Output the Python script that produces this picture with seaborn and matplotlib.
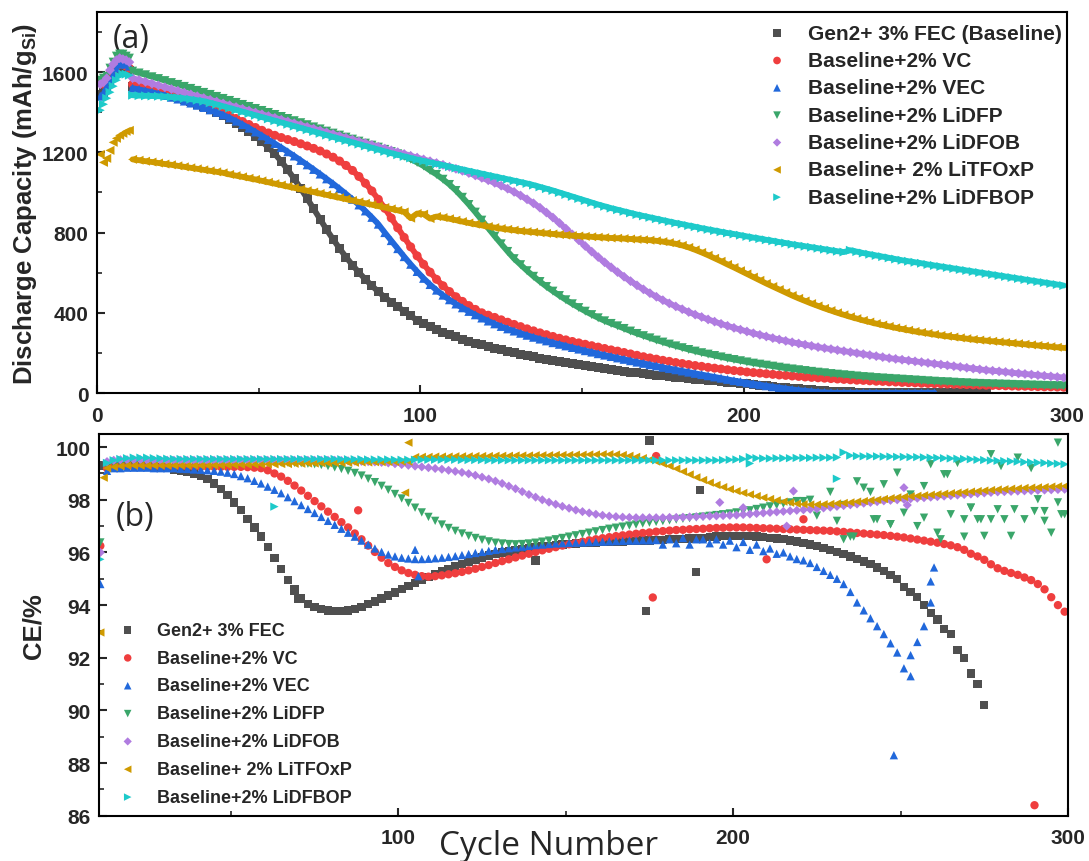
import numpy as np
import seaborn as sns
import matplotlib.pyplot as plt
from matplotlib.ticker import MultipleLocator

# ---- series names, colours, markers ----
top_labels = ['Gen2+ 3% FEC (Baseline)', 'Baseline+2% VC', 'Baseline+2% VEC',
              'Baseline+2% LiDFP', 'Baseline+2% LiDFOB', 'Baseline+ 2% LiTFOxP',
              'Baseline+2% LiDFBOP']
bottom_labels = ['Gen2+ 3% FEC', 'Baseline+2% VC', 'Baseline+2% VEC',
                 'Baseline+2% LiDFP', 'Baseline+2% LiDFOB', 'Baseline+ 2% LiTFOxP',
                 'Baseline+2% LiDFBOP']
colors = ['#4f4f4f', '#ef3e3e', '#2168db', '#3aa66a', '#b07ce0', '#cf9a00', '#1dcaca']
markers = ['s', 'o', '^', 'v', 'D', '<', '>']

# ---- (a) discharge capacity, formation cycles 1..10 ----
form_cycles = list(range(1, 11))
form_fec = [1490, 1500, 1530, 1560, 1590, 1610, 1620, 1625, 1620, 1610]
form_vc = [1550, 1540, 1560, 1590, 1610, 1630, 1640, 1640, 1630, 1620]
form_vec = [1480, 1500, 1530, 1560, 1590, 1620, 1640, 1650, 1640, 1630]
form_lidfp = [1560, 1570, 1580, 1620, 1650, 1680, 1690, 1690, 1680, 1670]
form_lidfob = [1540, 1550, 1570, 1610, 1640, 1660, 1670, 1665, 1660, 1650]
form_litfoxp = [1190, 1150, 1170, 1210, 1250, 1270, 1285, 1295, 1305, 1310]
form_lidfbop = [1410, 1440, 1470, 1500, 1530, 1560, 1580, 1590, 1590, 1585]

# ---- (a) discharge capacity, every 2nd cycle from 11 ----
cycles = list(range(11, 301, 2))
cap_fec = [1530, 1525, 1518, 1510, 1502, 1493, 1484, 1474, 1463, 1452, 1440, 1427, 1413, 1398, 1382,
           1365, 1346, 1326, 1304, 1280, 1254, 1225, 1192, 1155, 1113, 1068, 1020, 970, 918, 866,
           815, 767, 721, 678, 638, 601, 567, 535, 505, 478, 453, 430, 408, 385, 362,
           346, 331, 317, 304, 292, 280, 269, 259, 249, 240, 231, 223, 215, 207, 200,
           193, 186, 180, 174, 168, 162, 156, 151, 145, 140, 135, 130, 125, 120, 116,
           112, 108, 104, 100, 96, 92, 89, 85, 82, 78, 75, 72, 69, 66, 63,
           60, 57, 54, 51, 48, 45, 42, 39, 36, 33, 30, 27, 24, 21, 18,
           16, 14, 12, 10, 8, 7, 6, 5, 4, 3, 3, 2, 2, 2, 1,
           1, 1, 1, 1, 1, 1, 1, 1, 1, 1, 1, 1, 1]
cap_vc = [1540, 1533, 1526, 1518, 1510, 1502, 1493, 1484, 1474, 1464, 1453, 1441, 1428, 1414, 1399,
          1384, 1369, 1354, 1339, 1324, 1310, 1297, 1285, 1274, 1264, 1254, 1243, 1232, 1220, 1207,
          1192, 1176, 1157, 1135, 1110, 1080, 1046, 1008, 966, 921, 873, 824, 776, 729, 684,
          642, 603, 567, 535, 506, 480, 457, 436, 417, 400, 388, 377, 365, 353, 342,
          331, 320, 310, 300, 291, 282, 273, 265, 257, 250, 243, 236, 229, 222, 215,
          209, 202, 195, 188, 181, 175, 169, 163, 158, 152, 147, 142, 137, 133, 128,
          124, 120, 116, 112, 109, 105, 102, 99, 96, 93, 90, 88, 85, 83, 80,
          78, 76, 74, 72, 70, 68, 66, 64, 63, 61, 59, 58, 56, 55, 53,
          52, 51, 49, 48, 47, 46, 45, 44, 43, 42, 41, 40, 39, 38, 37,
          36, 35, 34, 34, 33, 32, 31, 31, 30, 29]
cap_vec = [1520, 1514, 1507, 1500, 1492, 1484, 1475, 1466, 1456, 1446, 1435, 1424, 1412, 1400, 1387,
           1372, 1356, 1339, 1321, 1302, 1283, 1264, 1244, 1224, 1203, 1182, 1160, 1138, 1115, 1092,
           1068, 1044, 1019, 993, 966, 938, 908, 876, 842, 800, 760, 720, 680, 642, 606,
           572, 541, 513, 488, 465, 444, 425, 407, 390, 374, 359, 345, 332, 320, 309,
           298, 288, 278, 269, 260, 251, 243, 235, 227, 219, 211, 204, 196, 189, 182,
           175, 168, 161, 154, 148, 141, 135, 128, 122, 116, 110, 104, 98, 92, 86,
           80, 74, 68, 62, 57, 51, 46, 41, 36, 31, 27, 22, 18, 14, 11,
           8, 5, 3, 2, 1, 1, 1, 1, 1, 1, 1, 1, 1, 1, 1,
           1, 1, 1, 1, 1]
cap_lidfp = [1605, 1596, 1587, 1577, 1568, 1558, 1548, 1539, 1529, 1519, 1509, 1499, 1489, 1479, 1469,
             1459, 1449, 1439, 1429, 1419, 1409, 1399, 1389, 1379, 1369, 1358, 1348, 1338, 1327, 1317,
             1306, 1296, 1286, 1276, 1266, 1256, 1246, 1236, 1226, 1215, 1204, 1193, 1180, 1166, 1150,
             1132, 1110, 1090, 1066, 1040, 1010, 976, 940, 902, 862, 822, 782, 744, 706, 670,
             640, 610, 582, 556, 531, 508, 486, 465, 445, 426, 408, 391, 375, 360, 347,
             335, 322, 309, 297, 286, 275, 264, 254, 244, 235, 226, 217, 209, 201, 194,
             187, 180, 173, 167, 161, 155, 149, 144, 139, 134, 129, 124, 120, 116, 112,
             108, 104, 101, 97, 94, 91, 88, 85, 82, 80, 77, 75, 73, 71, 69,
             67, 65, 63, 61, 59, 57, 56, 54, 52, 51, 49, 48, 47, 46, 45,
             44, 43, 42, 41, 40, 39, 38, 37, 37, 36]
cap_lidfob = [1570, 1561, 1552, 1543, 1534, 1525, 1516, 1507, 1498, 1489, 1480, 1471, 1462, 1453, 1444,
              1435, 1426, 1417, 1408, 1399, 1390, 1381, 1372, 1363, 1354, 1345, 1336, 1327, 1318, 1309,
              1300, 1291, 1282, 1273, 1264, 1255, 1246, 1237, 1228, 1219, 1210, 1201, 1192, 1183, 1174,
              1165, 1156, 1147, 1138, 1128, 1118, 1108, 1097, 1085, 1073, 1061, 1048, 1034, 1019, 1003,
              985, 966, 946, 924, 900, 875, 848, 820, 791, 762, 733, 705, 678, 652, 627,
              603, 580, 558, 537, 517, 498, 480, 463, 447, 432, 418, 404, 391, 379, 367,
              356, 345, 335, 325, 316, 307, 298, 290, 282, 274, 267, 260, 253, 247, 241,
              235, 229, 224, 219, 214, 209, 204, 199, 194, 189, 184, 179, 174, 170, 166,
              162, 158, 154, 150, 146, 142, 138, 134, 130, 126, 122, 118, 114, 111, 108,
              105, 101, 98, 95, 92, 89, 86, 83, 80, 77]
cap_litfoxp = [1165, 1161, 1156, 1152, 1147, 1142, 1138, 1133, 1128, 1123, 1118, 1113, 1108, 1103, 1098,
               1090, 1084, 1078, 1071, 1065, 1058, 1051, 1044, 1037, 1030, 1023, 1016, 1009, 1002, 995,
               988, 981, 974, 967, 960, 953, 946, 939, 932, 925, 918, 911, 903, 872, 895,
               892, 870, 880, 875, 869, 862, 855, 848, 842, 836, 830, 825, 820, 816, 812,
               808, 805, 802, 799, 796, 793, 790, 787, 785, 783, 781, 779, 777, 775, 773,
               772, 770, 768, 766, 764, 762, 759, 755, 750, 744, 736, 726, 714, 701, 687,
               672, 657, 641, 626, 610, 594, 578, 562, 546, 531, 516, 501, 486, 472, 459,
               446, 434, 422, 411, 400, 390, 380, 371, 362, 354, 346, 339, 332, 325, 319,
               313, 307, 302, 297, 292, 287, 283, 279, 275, 271, 267, 264, 261, 258, 255,
               252, 249, 246, 243, 240, 237, 234, 231, 228, 225]
cap_lidfbop = [1485, 1483, 1482, 1481, 1480, 1478, 1476, 1473, 1469, 1465, 1460, 1455, 1447, 1439, 1430,
               1421, 1412, 1403, 1394, 1385, 1376, 1367, 1358, 1349, 1340, 1331, 1322, 1313, 1304, 1295,
               1286, 1277, 1268, 1259, 1250, 1241, 1232, 1223, 1214, 1205, 1196, 1188, 1180, 1172, 1164,
               1157, 1150, 1143, 1136, 1129, 1122, 1115, 1108, 1101, 1094, 1087, 1080, 1073, 1066, 1059,
               1052, 1045, 1037, 1028, 1019, 1010, 1000, 990, 980, 970, 960, 950, 940, 931, 922,
               914, 906, 898, 890, 883, 876, 869, 862, 855, 848, 842, 835, 829, 822, 816,
               810, 804, 798, 793, 787, 781, 775, 770, 764, 759, 753, 748, 742, 737, 732,
               727, 722, 717, 712, 707, 703, 712, 705, 698, 692, 686, 680, 674, 668, 662,
               657, 652, 647, 641, 636, 631, 626, 621, 616, 611, 606, 601, 596, 591, 586,
               581, 576, 571, 566, 561, 556, 551, 546, 541, 536]

# ---- (b) coulombic efficiency, every 2nd cycle from 11 ----
ce_fec = [99.3, 99.35, 99.35, 99.35, 99.35, 99.34, 99.32, 99.3, 99.27, 99.24, 99.2, 99.15, 99.1, 99.05, 99.0,
          98.9, 98.78, 98.62, 98.42, 98.18, 97.9, 97.6, 97.28, 96.95, 96.6, 96.2, 95.8, 95.38, 94.95, 94.55,
          94.25, 94.05, 93.92, 93.84, 93.8, 93.78, 93.78, 93.8, 93.86, 93.94, 94.04, 94.14, 94.25, 94.36, 94.48,
          94.6, 94.72, 94.84, 94.96, 95.08, 95.18, 95.28, 95.38, 95.48, 95.57, 95.65, 95.73, 95.81, 95.88, 95.95,
          96.0, 96.04, 96.08, 96.12, 96.16, 96.19, 96.22, 96.25, 96.28, 96.3, 96.32, 96.34, 96.35, 96.36, 96.38,
          96.39, 96.4, 96.41, 96.42, 96.43, 96.44, 96.45, 96.46, 96.47, 96.48, 96.5, 96.51, 96.52, 96.53, 96.55,
          96.56, 96.58, 96.6, 96.62, 96.63, 96.63, 96.63, 96.62, 96.6, 96.58, 96.56, 96.53, 96.5, 96.46, 96.41,
          96.36, 96.3, 96.24, 96.17, 96.1, 96.02, 95.94, 95.85, 95.76, 95.66, 95.55, 95.43, 95.3, 95.15, 94.98,
          94.7, 94.5, 94.3, 94.0, 93.7, 93.45, 93.1, 92.9, 92.3, 92.0, 91.4, 91.0, 90.2]
ce_vc = [96.25, 99.2, 99.25, 99.25, 99.25, 99.25, 99.25, 99.25, 99.25, 99.25, 99.25, 99.25, 99.25, 99.25, 99.25,
         99.25, 99.25, 99.25, 99.25, 99.25, 99.25, 99.25, 99.24, 99.22, 99.2, 99.12, 99.0, 98.88, 98.72, 98.54,
         98.35, 98.15, 97.95, 97.75, 97.55, 97.35, 97.15, 96.95, 96.72, 96.5, 96.26, 96.02, 95.8, 95.6, 95.45,
         95.32, 95.22, 95.15, 95.1, 95.08, 95.1, 95.13, 95.17, 95.21, 95.26, 95.32, 95.38, 95.45, 95.52, 95.6,
         95.67, 95.74, 95.81, 95.88, 95.95, 96.02, 96.08, 96.14, 96.2, 96.26, 96.31, 96.36, 96.41, 96.46, 96.5,
         96.54, 96.58, 96.62, 96.65, 96.68, 96.71, 96.74, 96.76, 96.79, 96.81, 96.83, 96.85, 96.86, 96.88, 96.89,
         96.9, 96.92, 96.93, 96.94, 96.95, 96.95, 96.95, 96.94, 96.93, 96.92, 96.91, 96.9, 96.89, 96.88, 96.87,
         96.86, 96.85, 96.84, 96.83, 96.82, 96.8, 96.78, 96.76, 96.74, 96.72, 96.7, 96.68, 96.66, 96.63, 96.6,
         96.57, 96.53, 96.49, 96.45, 96.41, 96.37, 96.32, 96.27, 96.2, 96.1, 95.95, 95.85, 95.72, 95.55, 95.4,
         95.3, 95.22, 95.15, 95.05, 94.95, 94.8, 94.6, 94.3, 94.0, 93.75]
ce_vec = [94.8, 99.1, 99.2, 99.2, 99.22, 99.22, 99.22, 99.22, 99.2, 99.2, 99.2, 99.2, 99.18, 99.17, 99.15,
          99.14, 99.12, 99.1, 99.07, 99.03, 98.98, 98.9, 98.82, 98.72, 98.62, 98.5, 98.38, 98.25, 98.1, 97.95,
          97.8, 97.65, 97.5, 97.35, 97.2, 97.05, 96.9, 96.75, 96.6, 96.45, 96.3, 96.15, 96.02, 95.92, 95.85,
          95.8, 95.77, 95.75, 95.75, 95.76, 95.78, 95.8, 95.83, 95.86, 95.9, 95.94, 95.98, 96.02, 96.06, 96.1,
          96.13, 96.16, 96.19, 96.22, 96.25, 96.28, 96.3, 96.32, 96.34, 96.35, 96.36, 96.37, 96.38, 96.39, 96.4,
          96.41, 96.42, 96.43, 96.44, 96.45, 96.45, 96.46, 96.46, 96.47, 96.3, 96.5, 96.35, 96.55, 96.3, 96.5,
          96.5, 96.35, 96.5, 96.3, 96.45, 96.2, 96.4, 96.1, 96.3, 96.05, 96.15, 95.95, 96.0, 95.85, 95.75,
          95.7, 95.6, 95.45, 95.3, 95.15, 95.0, 94.8, 94.5, 94.1, 93.8, 93.5, 93.2, 92.9, 92.55, 92.2,
          91.6, 92.1, 92.6, 93.2, 94.1]
ce_lidfp = [96.38, 99.3, 99.38, 99.4, 99.42, 99.42, 99.42, 99.42, 99.42, 99.42, 99.42, 99.42, 99.42, 99.42, 99.42,
            99.42, 99.42, 99.42, 99.42, 99.42, 99.42, 99.42, 99.42, 99.42, 99.42, 99.42, 99.42, 99.41, 99.41, 99.4,
            99.39, 99.37, 99.35, 99.32, 99.28, 99.23, 99.17, 99.1, 99.02, 98.92, 98.8, 98.67, 98.53, 98.38, 98.22,
            98.05, 97.88, 97.7, 97.52, 97.35, 97.2, 97.06, 96.93, 96.82, 96.72, 96.63, 96.55, 96.48, 96.42, 96.37,
            96.34, 96.32, 96.31, 96.32, 96.34, 96.37, 96.41, 96.45, 96.5, 96.55, 96.6, 96.65, 96.7, 96.75, 96.8,
            96.85, 96.9, 96.94, 96.98, 97.02, 97.06, 97.1, 97.13, 97.16, 97.19, 97.22, 97.25, 97.28, 97.3, 97.33,
            97.36, 97.39, 97.42, 97.45, 97.48, 97.52, 97.56, 97.6, 97.65, 97.7, 97.75, 97.8, 97.85, 97.9, 97.95,
            97.95, 98.0, 97.4, 97.7, 98.3, 97.2, 97.8, 96.6, 98.7, 98.46, 98.3, 97.26, 98.59, 97.07, 99.03,
            97.51, 98.2, 97.0, 98.52, 99.35, 96.75, 98.97, 97.45, 99.4, 96.6, 97.7, 97.26, 96.63, 99.73, 97.64,
            97.26, 96.63, 99.6, 97.26, 99.2, 98.02, 97.2, 96.75, 97.9, 97.45]
ce_lidfob = [96.0, 99.45, 99.5, 99.52, 99.52, 99.52, 99.52, 99.5, 99.5, 99.5, 99.5, 99.5, 99.5, 99.5, 99.5,
             99.5, 99.5, 99.5, 99.5, 99.5, 99.5, 99.5, 99.5, 99.5, 99.5, 99.5, 99.5, 99.5, 99.5, 99.5,
             99.5, 99.5, 99.5, 99.5, 99.5, 99.5, 99.49, 99.48, 99.47, 99.46, 99.45, 99.44, 99.42, 99.4, 99.37,
             99.34, 99.31, 99.28, 99.25, 99.22, 99.19, 99.16, 99.12, 99.08, 99.04, 98.99, 98.93, 98.86, 98.79, 98.71,
             98.62, 98.52, 98.42, 98.31, 98.2, 98.1, 98.0, 97.91, 97.83, 97.75, 97.68, 97.61, 97.55, 97.5, 97.45,
             97.41, 97.38, 97.36, 97.34, 97.33, 97.32, 97.32, 97.32, 97.32, 97.32, 97.33, 97.33, 97.34, 97.35, 97.36,
             97.37, 97.38, 97.39, 97.4, 97.41, 97.42, 97.44, 97.46, 97.48, 97.5, 97.52, 97.54, 97.56, 97.58, 97.6,
             97.62, 97.64, 97.66, 97.69, 97.72, 97.75, 97.78, 97.81, 97.84, 97.87, 97.9, 97.93, 97.96, 97.98, 98.0,
             98.02, 98.04, 98.06, 98.08, 98.1, 98.12, 98.14, 98.16, 98.18, 98.2, 98.22, 98.24, 98.26, 98.28, 98.3,
             98.31, 98.32, 98.33, 98.34, 98.35, 98.36, 98.37, 98.38, 98.39, 98.4]
ce_litfoxp = [92.96, 99.2, 99.25, 99.28, 99.3, 99.3, 99.3, 99.3, 99.3, 99.3, 99.3, 99.3, 99.3, 99.3, 99.3,
              99.3, 99.3, 99.31, 99.31, 99.32, 99.32, 99.33, 99.33, 99.34, 99.34, 99.35, 99.35, 99.36, 99.36, 99.37,
              99.37, 99.38, 99.38, 99.39, 99.39, 99.4, 99.4, 99.41, 99.41, 99.42, 99.42, 99.43, 99.43, 99.44, 99.44,
              99.45, 99.45, 99.62, 99.63, 99.63, 99.64, 99.64, 99.64, 99.65, 99.65, 99.65, 99.66, 99.66, 99.66, 99.67,
              99.67, 99.67, 99.68, 99.68, 99.68, 99.69, 99.69, 99.69, 99.7, 99.7, 99.7, 99.71, 99.71, 99.72, 99.72,
              99.73, 99.73, 99.72, 99.7, 99.67, 99.63, 99.58, 99.52, 99.45, 99.37, 99.28, 99.18, 99.07, 98.96, 98.85,
              98.75, 98.65, 98.56, 98.48, 98.4, 98.33, 98.26, 98.2, 98.14, 98.08, 98.03, 97.98, 97.93, 97.89, 97.85,
              97.83, 97.82, 97.82, 97.83, 97.84, 97.86, 97.88, 97.9, 97.93, 97.95, 97.98, 98.0, 98.03, 98.06, 98.09,
              98.11, 98.13, 98.15, 98.17, 98.19, 98.21, 98.23, 98.25, 98.27, 98.29, 98.31, 98.33, 98.35, 98.37, 98.39,
              98.4, 98.42, 98.43, 98.45, 98.46, 98.47, 98.48, 98.5, 98.51, 98.52]
ce_lidfbop = [95.74, 99.4, 99.5, 99.55, 99.58, 99.6, 99.6, 99.6, 99.58, 99.57, 99.56, 99.55, 99.55, 99.55, 99.55,
              99.55, 99.55, 99.55, 99.55, 99.55, 99.55, 99.55, 99.55, 99.55, 99.55, 99.55, 99.55, 99.55, 99.55, 99.55,
              99.55, 99.55, 99.55, 99.55, 99.55, 99.55, 99.54, 99.54, 99.54, 99.54, 99.53, 99.53, 99.53, 99.53, 99.52,
              99.52, 99.52, 99.52, 99.52, 99.52, 99.52, 99.52, 99.52, 99.52, 99.51, 99.51, 99.51, 99.51, 99.5, 99.5,
              99.5, 99.5, 99.5, 99.5, 99.5, 99.5, 99.5, 99.5, 99.5, 99.5, 99.5, 99.5, 99.5, 99.5, 99.5,
              99.5, 99.5, 99.5, 99.5, 99.5, 99.5, 99.5, 99.5, 99.5, 99.5, 99.5, 99.5, 99.5, 99.5, 99.5,
              99.5, 99.5, 99.5, 99.51, 99.52, 99.53, 99.55, 99.62, 99.58, 99.57, 99.57, 99.58, 99.58, 99.58, 99.59,
              99.59, 99.59, 99.6, 99.6, 99.6, 99.61, 99.8, 99.68, 99.66, 99.65, 99.65, 99.65, 99.64, 99.64, 99.63,
              99.63, 99.62, 99.62, 99.61, 99.6, 99.59, 99.58, 99.57, 99.56, 99.55, 99.54, 99.52, 99.51, 99.49, 99.48,
              99.47, 99.46, 99.45, 99.43, 99.42, 99.41, 99.4, 99.38, 99.37, 99.35]

# ---- (b) stray single-cycle points ----
fec_out_x = [69, 70, 141, 174, 175, 189, 190]
fec_out_y = [94.6, 94.25, 95.7, 93.78, 100.25, 95.26, 98.36]
vc_out_x = [88, 176, 177, 210, 221, 290]
vc_out_y = [97.6, 94.29, 99.66, 95.74, 97.26, 86.4]
vec_out_x = [105, 106, 248, 253, 259, 260]
vec_out_y = [96.1, 95.1, 88.3, 91.3, 94.9, 95.43]
lidfp_out_x = [233, 236, 242, 247, 257, 262, 264, 269, 271, 274, 277, 280, 284, 290, 293, 297, 298]
lidfp_out_y = [96.5, 96.6, 97.26, 97.07, 97.32, 96.5, 98.97, 97.26, 97.7, 97.26, 97.26, 99.28, 97.64,
               97.57, 97.57, 100.17, 97.45]
lidfob_out_x = [196, 203, 216, 218, 251, 252]
lidfob_out_y = [97.9, 97.7, 97.0, 98.33, 98.46, 97.8]
litfoxp_out_x = [12, 102, 103]
litfoxp_out_y = [98.84, 98.27, 100.17]
lidfbop_out_x = [63, 205, 231]
lidfbop_out_y = [97.74, 99.38, 98.8]

cap_form = [form_fec, form_vc, form_vec, form_lidfp, form_lidfob, form_litfoxp, form_lidfbop]
cap_main = [cap_fec, cap_vc, cap_vec, cap_lidfp, cap_lidfob, cap_litfoxp, cap_lidfbop]
ce_main = [ce_fec, ce_vc, ce_vec, ce_lidfp, ce_lidfob, ce_litfoxp, ce_lidfbop]
ce_out = [(fec_out_x, fec_out_y), (vc_out_x, vc_out_y), (vec_out_x, vec_out_y),
          (lidfp_out_x, lidfp_out_y), (lidfob_out_x, lidfob_out_y),
          (litfoxp_out_x, litfoxp_out_y), (lidfbop_out_x, lidfbop_out_y)]

sns.set_theme(style='ticks')
plt.rcParams['font.family'] = ['Liberation Sans', 'DejaVu Sans']
plt.rcParams['font.weight'] = 'bold'
plt.rcParams['axes.labelweight'] = 'bold'
plt.rcParams['mathtext.fontset'] = 'custom'
plt.rcParams['mathtext.rm'] = 'Liberation Sans'

fig = plt.figure(figsize=(10.89, 8.62), dpi=100)
ax1 = fig.add_axes([0.0891, 0.5429, 0.8907, 0.442])
ax2 = fig.add_axes([0.0909, 0.0525, 0.8898, 0.4429])


def marker_size(m, base):
    # diamonds look larger than the other symbols at equal area
    return base * 0.6 if m == 'D' else base


# (a) discharge capacity: dense symbols, with a band underneath so the
# every-cycle look of the original is kept
for i in range(7):
    xm = cycles[:len(cap_main[i])]
    sns.lineplot(x=xm, y=cap_main[i], color=colors[i], linewidth=4.2, sort=False,
                 ax=ax1, legend=False, zorder=2 + i)
    x = form_cycles + xm
    y = cap_form[i] + cap_main[i]
    sns.scatterplot(x=x, y=y, marker=markers[i], color=colors[i],
                    s=marker_size(markers[i], 42), linewidth=0, edgecolor='none',
                    ax=ax1, label=top_labels[i], zorder=2 + i)

# (b) coulombic efficiency
for i in range(7):
    x = cycles[:len(ce_main[i])] + ce_out[i][0]
    y = ce_main[i] + ce_out[i][1]
    sns.scatterplot(x=x, y=y, marker=markers[i], color=colors[i],
                    s=marker_size(markers[i], 36), linewidth=0, edgecolor='none',
                    ax=ax2, label=bottom_labels[i])

ax1.set_xlim(0, 300)
ax1.set_ylim(0, 1900)
ax1.xaxis.set_major_locator(MultipleLocator(100))
ax1.xaxis.set_minor_locator(MultipleLocator(50))
ax1.yaxis.set_major_locator(MultipleLocator(400))
ax1.yaxis.set_minor_locator(MultipleLocator(200))
ax1.set_ylabel('Discharge Capacity (mAh/g$_{\\mathrm{Si}}$)', fontsize=18.5, labelpad=2)
ax1.set_xlabel('')

ax2.set_xlim(10.6, 300)
ax2.set_ylim(86, 100.5)
ax2.xaxis.set_major_locator(MultipleLocator(100))
ax2.xaxis.set_minor_locator(MultipleLocator(50))
ax2.yaxis.set_major_locator(MultipleLocator(2))
ax2.yaxis.set_minor_locator(MultipleLocator(1))
ax2.set_ylabel('CE/%', fontsize=18.5, labelpad=7)
ax2.set_xlabel('Cycle Number', fontsize=24, fontweight='normal', family='Open Sans')
ax2.xaxis.set_label_coords(0.464, -0.035)

for ax in (ax1, ax2):
    for sp in ax.spines.values():
        sp.set_linewidth(1.5)
        sp.set_color('black')
        sp.set_zorder(20)
    ax.tick_params(which='major', direction='in', length=6, width=1.5, labelsize=15, pad=9)
    ax.tick_params(which='minor', direction='in', length=3.5, width=1.2)
    ax.tick_params(axis='y', which='major', pad=6)

ax1.text(0.016, 0.93, '(a)', transform=ax1.transAxes, fontsize=23, family='Open Sans',
         fontweight='normal', va='center', ha='left')
ax2.text(0.017, 0.783, '(b)', transform=ax2.transAxes, fontsize=23, family='Open Sans',
         fontweight='normal', va='center', ha='left')

ax1.legend(loc='upper right', bbox_to_anchor=(0.995, 0.9695), frameon=False, borderpad=0,
           borderaxespad=0, prop={'family': 'Liberation Sans', 'weight': 'bold', 'size': 15},
           markerscale=0.85, handletextpad=0.5, labelspacing=0.4, scatterpoints=1)
ax2.legend(loc='lower left', bbox_to_anchor=(0.011, 0.026), frameon=False, borderpad=0,
           borderaxespad=0, prop={'family': 'Liberation Sans', 'weight': 'bold', 'size': 13},
           markerscale=0.9, handletextpad=0.6, labelspacing=0.6, scatterpoints=1)

fig.savefig('out.png', dpi=100)
